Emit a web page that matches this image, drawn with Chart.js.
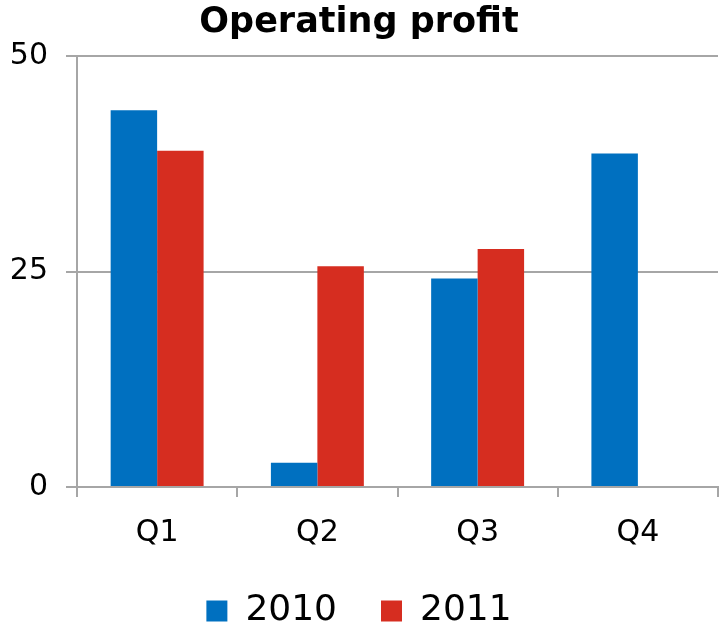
<!DOCTYPE html>
<html>
<head>
<meta charset="utf-8">
<script src="https://cdn.jsdelivr.net/npm/chart.js@4"></script>
<style>
  html, body { margin: 0; padding: 0; background: #fff; }
  #wrap { width: 720px; height: 630px; }
</style>
</head>
<body>
<div id="wrap"><canvas id="profitChart"></canvas></div>
<script>
const quarters = ['Q1', 'Q2', 'Q3', 'Q4'];
const profit2010 = [43.7, 2.8, 24.2, 38.7];
const profit2011 = [39.0, 25.6, 27.6, null];
const yTicks = [0, 25, 50];

const gridGray = '#a6a6a6';
const font = 'DejaVu Sans, Verdana, sans-serif';

const ctx = document.getElementById('profitChart').getContext('2d');

new Chart(ctx, {
    type: 'bar',
    data: {
        labels: quarters,
        datasets: [
            { label: '2010', data: profit2010, backgroundColor: '#0070c0' },
            { label: '2011', data: profit2011, backgroundColor: '#d62d20' }
        ]
    },
    options: {
        responsive: true,
        maintainAspectRatio: false,
        animation: false,
        devicePixelRatio: 1,
        categoryPercentage: 0.58,
        barPercentage: 1,
        layout: { padding: { left: 0, right: 2, top: 0, bottom: -9 } },
        plugins: {
            title: {
                display: true,
                text: 'Operating profit',
                color: '#000',
                font: { family: font, size: 35, weight: 'bold' },
                padding: { top: 2, bottom: 12 }
            },
            legend: {
                position: 'bottom',
                labels: {
                    color: '#000',
                    font: { family: font, size: 36 },
                    boxWidth: 21,
                    boxHeight: 21,
                    padding: 44
                }
            },
            tooltip: { enabled: false }
        },
        scales: {
            x: {
                // chart.js counts tick padding twice, trim the box back
                afterFit: axis => { axis.height = 62; },
                grid: {
                    offset: true,
                    drawOnChartArea: false,
                    color: gridGray,
                    lineWidth: 2,
                    tickLength: 10
                },
                border: { color: gridGray, width: 2 },
                ticks: {
                    color: '#000',
                    font: { family: font, size: 30 },
                    padding: 18
                }
            },
            y: {
                min: 0,
                max: 50,
                afterFit: axis => { axis.width = 77; },
                afterBuildTicks: axis => {
                    axis.ticks = yTicks.map(v => ({ value: v }));
                },
                grid: {
                    color: gridGray,
                    lineWidth: 2,
                    tickLength: 11
                },
                border: { color: gridGray, width: 2 },
                ticks: {
                    color: '#000',
                    font: { family: font, size: 30 },
                    padding: 18
                }
            }
        }
    }
});
</script>
</body>
</html>
